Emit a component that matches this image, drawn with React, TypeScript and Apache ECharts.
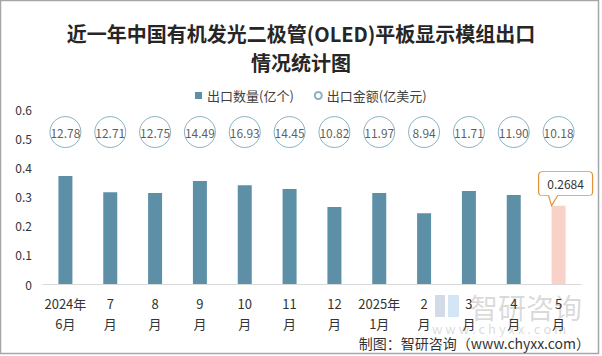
import React, { useEffect, useRef } from "react";
import * as echarts from "echarts";

const categories = ["2024年\n6月", "7\n月", "8\n月", "9\n月", "10\n月", "11\n月", "12\n月", "2025年\n1月", "2\n月", "3\n月", "4\n月", "5\n月"];
const quantity = [0.370, 0.315, 0.312, 0.353, 0.339, 0.326, 0.264, 0.312, 0.243, 0.319, 0.305, 0.2684];
const amount = ["12.78", "12.71", "12.75", "14.49", "16.93", "14.45", "10.82", "11.97", "8.94", "11.71", "11.90", "10.18"];
const yTicks = { min: 0, max: 0.6, interval: 0.1 };
const BUBBLE_ROW = 0.521;

const FONT = "'Noto Sans CJK SC', 'Noto Sans', sans-serif";

export default function App() {
  const ref = useRef<HTMLDivElement>(null);
  useEffect(() => {
    document.body.style.margin = "0";
    if (!ref.current) return;
    const chart = echarts.init(ref.current, null, { renderer: "svg" });
    const last = quantity.length - 1;
    chart.setOption({
      animation: false,
      textStyle: { fontFamily: FONT },
      title: {
        text: "近一年中国有机发光二极管(OLED)平板显示模组出口\n情况统计图",
        left: "center",
        top: 14,
        textStyle: { fontSize: 20, fontWeight: "bold", color: "#262626", lineHeight: 29, fontFamily: FONT },
      },
      legend: {
        top: 84,
        left: 190,
        itemWidth: 7,
        itemHeight: 7,
        itemGap: 20,
        textStyle: { fontSize: 13, color: "#404040", fontFamily: FONT },
        data: [
          { name: "出口数量(亿个)", icon: "rect" },
          { name: "出口金额(亿美元)", icon: "circle" },
        ],
      },
      grid: { left: 43, right: 21, top: 109, bottom: 72 },
      xAxis: {
        type: "category",
        data: categories,
        axisTick: { show: false },
        axisLine: { lineStyle: { color: "#d9d9d9" } },
        axisLabel: { fontSize: 13, color: "#333", lineHeight: 20, margin: 9, interval: 0, fontFamily: FONT },
      },
      yAxis: {
        type: "value",
        min: yTicks.min,
        max: yTicks.max,
        interval: yTicks.interval,
        splitLine: { show: false },
        axisLine: { show: false },
        axisTick: { show: false },
        axisLabel: { fontSize: 12, color: "#333", margin: 11, fontFamily: FONT },
      },
      series: [
        {
          name: "出口数量(亿个)",
          type: "bar",
          barWidth: 14,
          itemStyle: { color: "#5d8fa6" },
          data: quantity.map((v, i) =>
            i === last ? { value: v, itemStyle: { color: "#f8d1c8" } } : v
          ),
          markPoint: {
            symbol: "path://M4,0 L50,0 Q54,0 54,4 L54,20 Q54,24 50,24 L19,24 L13,34 L10,24 L4,24 Q0,24 0,20 L0,4 Q0,0 4,0 Z",
            symbolSize: [54, 34],
            symbolOffset: [7, -17],
            itemStyle: { color: "#ffffff", borderColor: "#e8923a", borderWidth: 1 },
            label: {
              show: true,
              position: "inside",
              offset: [0, -5],
              fontSize: 12,
              color: "#333",
              fontFamily: FONT,
              formatter: () => String(quantity[last]),
            },
            data: [{ coord: [categories[last], quantity[last]], value: quantity[last] }],
          },
        },
        {
          name: "出口金额(亿美元)",
          type: "scatter",
          symbol: "circle",
          symbolSize: 31,
          z: 5,
          itemStyle: { color: "#ffffff", borderColor: "#6f9db3", borderWidth: 1 },
          label: {
            show: true,
            position: "inside",
            fontSize: 12,
            color: "#333",
            fontFamily: FONT,
            formatter: (p: any) => amount[p.dataIndex],
          },
          data: amount.map((_, i) => [categories[i], BUBBLE_ROW]),
        },
      ],
      graphic: [
        {
          type: "rect",
          shape: { x: 0.5, y: 0.5, width: 598, height: 353 },
          style: { fill: "none", stroke: "#a6a6a6", lineWidth: 1.5 },
          silent: true,
        },
        {
          type: "group",
          silent: true,
          children: [
            { type: "rect", shape: { x: 435, y: 295, width: 10, height: 22 }, style: { fill: "rgba(160,175,205,0.45)" } },
            { type: "rect", shape: { x: 448, y: 295, width: 11, height: 22 }, style: { fill: "rgba(170,205,235,0.5)" } },
            {
              type: "text",
              x: 470,
              y: 307,
              style: { text: "智研咨询", fontSize: 28, fill: "rgba(150,150,150,0.35)", textVerticalAlign: "middle", fontFamily: FONT },
            },
            {
              type: "text",
              x: 432,
              y: 328,
              style: { text: "w w w . c h y x x . c o m", fontSize: 13, fill: "rgba(150,150,150,0.35)", textVerticalAlign: "middle", fontFamily: FONT },
            },
          ],
        },
        {
          type: "text",
          right: 12,
          top: 336,
          style: { text: "制图：智研咨询（www.chyxx.com）", fontSize: 14, fill: "#333", fontFamily: FONT },
          silent: true,
        },
      ],
    });
    return () => chart.dispose();
  }, []);
  return <div ref={ref} style={{ width: 602, height: 356 }} />;
}
